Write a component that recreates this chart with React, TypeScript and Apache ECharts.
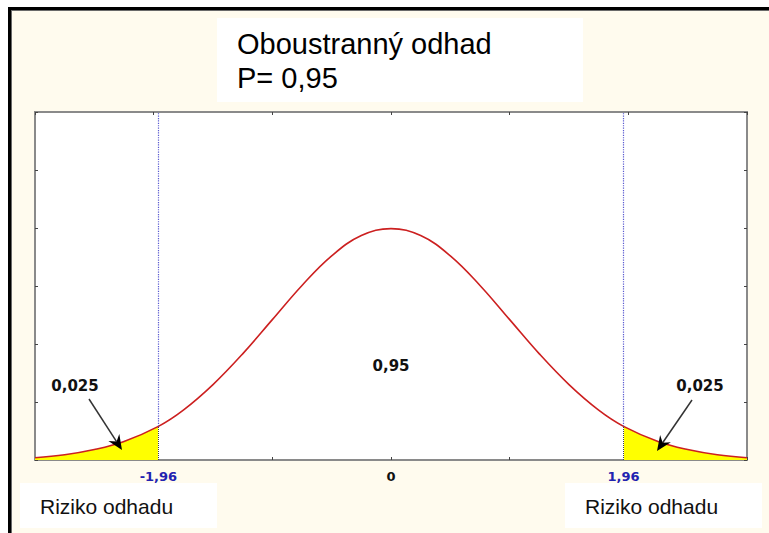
import React, { useEffect, useRef } from "react";
import * as echarts from "echarts";

// x positions (z) and density values
const zValues = [-3, -2.75, -2.5, -2.25, -1.96, -1.75, -1.5, -1.25, -1, -0.75, -0.5, -0.25, 0, 0.25, 0.5, 0.75, 1, 1.25, 1.5, 1.75, 1.96, 2.25, 2.5, 2.75, 3];
const density = [0.004, 0.009, 0.018, 0.032, 0.058, 0.086, 0.13, 0.183, 0.242, 0.301, 0.352, 0.387, 0.399, 0.387, 0.352, 0.301, 0.242, 0.183, 0.13, 0.086, 0.058, 0.032, 0.018, 0.009, 0.004];
const criticalValues = [-1.96, 1.96];
const criticalDensity = 0.058;
const xTickLabels = [-1.96, 0, 1.96];
const titleLines = ["Oboustranný odhad", "P= 0,95"];
const tailLabel = "0,025";
const centerLabel = "0,95";
const riskLabel = "Riziko odhadu";

function arrow(x1: number, y1: number, x2: number, y2: number) {
  const dx = x2 - x1, dy = y2 - y1;
  const len = Math.hypot(dx, dy);
  const ux = dx / len, uy = dy / len;
  const px = -uy, py = ux;
  const headLen = 15, headW = 6.5, notch = 10;
  const bx = x2 - ux * headLen, by = y2 - uy * headLen;
  const nx = x2 - ux * notch, ny = y2 - uy * notch;
  return [
    { type: "line", shape: { x1, y1, x2: nx, y2: ny }, style: { stroke: "#333", lineWidth: 1.5 }, z: 10 },
    {
      type: "polygon",
      shape: { points: [[x2, y2], [bx + px * headW, by + py * headW], [nx, ny], [bx - px * headW, by - py * headW]] },
      style: { fill: "#000" },
      z: 10,
    },
  ];
}

export default function App() {
  const ref = useRef<HTMLDivElement>(null);
  useEffect(() => {
    if (!ref.current) return;
    const chart = echarts.init(ref.current, undefined, { renderer: "svg" });
    const data = zValues.map((z, i) => [z, density[i]]);
    const axisCommon = {
      type: "value",
      axisLine: { show: true, onZero: false, lineStyle: { color: "#8a8a8a", width: 2 } },
      axisTick: { show: true, inside: true, length: 3, lineStyle: { color: "#444", width: 1 } },
      splitLine: { show: false },
    };
    const fmt = (v: number) => (v === 0 ? "{k|0}" : "{b|" + String(v).replace(".", ",") + "}");
    const option: any = {
      animation: false,
      backgroundColor: "#ffffff",
      grid: { left: 35, right: 22, top: 112, bottom: 73, show: true, backgroundColor: "#ffffff", borderColor: "#8a8a8a", borderWidth: 2 },
      xAxis: [
        {
          ...axisCommon,
          position: "bottom",
          min: -3,
          max: 3,
          interval: 1,
          axisLabel: {
            show: true,
            customValues: xTickLabels,
            formatter: fmt,
            margin: 10,
            rich: {
              k: { fontFamily: "DejaVu Sans", fontWeight: "bold", fontSize: 13, color: "#111" },
              b: { fontFamily: "DejaVu Sans", fontWeight: "bold", fontSize: 13, color: "#2222b0" },
            },
          },
        },
        { ...axisCommon, position: "top", min: -3, max: 3, interval: 1, axisLabel: { show: false } },
      ],
      yAxis: [
        { ...axisCommon, position: "left", min: 0, max: 0.6, interval: 0.1, axisLabel: { show: false } },
        { ...axisCommon, position: "right", min: 0, max: 0.6, interval: 0.1, axisLabel: { show: false } },
      ],
      visualMap: {
        show: false,
        type: "piecewise",
        seriesIndex: 0,
        dimension: 0,
        pieces: [
          { lt: criticalValues[0], color: "#ffff00" },
          { gte: criticalValues[0], lte: criticalValues[1], color: "rgba(255,255,255,0)" },
          { gt: criticalValues[1], color: "#ffff00" },
        ],
      },
      series: [
        {
          type: "line",
          data,
          smooth: 0.4,
          symbol: "none",
          lineStyle: { width: 0 },
          areaStyle: { opacity: 1 },
          z: 2,
          silent: true,
        },
        {
          type: "line",
          data,
          smooth: 0.4,
          symbol: "none",
          lineStyle: { color: "#cc2020", width: 1.6 },
          z: 4,
          silent: true,
          markLine: {
            silent: true,
            symbol: "none",
            label: { show: false },
            animation: false,
            data: [
              ...criticalValues.map((c) => [
                { coord: [c, criticalDensity], lineStyle: { color: "#5a5ad0", type: "dotted", width: 1.2 } },
                { coord: [c, 0.6] },
              ]),
              ...criticalValues.map((c) => [
                { coord: [c, 0], lineStyle: { color: "#444", type: "dotted", width: 1 } },
                { coord: [c, criticalDensity] },
              ]),
            ],
          },
        },
      ],
      graphic: [
        { type: "rect", shape: { x: 12, y: 11, width: 757, height: 522 }, style: { fill: "#fffbee" }, z: -10 },
        { type: "rect", shape: { x: 8, y: 7, width: 761, height: 3 }, style: { fill: "#000" }, z: 20 },
        { type: "rect", shape: { x: 8, y: 7, width: 3, height: 526 }, style: { fill: "#000" }, z: 20 },
        { type: "rect", shape: { x: 11, y: 10, width: 758, height: 1 }, style: { fill: "#6a6a6a" }, z: 20 },
        { type: "rect", shape: { x: 11, y: 10, width: 1, height: 523 }, style: { fill: "#6a6a6a" }, z: 20 },
        { type: "rect", shape: { x: 217, y: 18, width: 366, height: 84 }, style: { fill: "#ffffff" }, z: 5 },
        {
          type: "text",
          x: 237,
          y: 44,
          style: { text: titleLines[0], fontFamily: "Liberation Sans", fontSize: 29, fill: "#000", textVerticalAlign: "middle" },
          z: 6,
        },
        {
          type: "text",
          x: 237,
          y: 78,
          style: { text: titleLines[1], fontFamily: "Liberation Sans", fontSize: 29, fill: "#000", textVerticalAlign: "middle" },
          z: 6,
        },
        { type: "rect", shape: { x: 20, y: 483, width: 197, height: 45 }, style: { fill: "#ffffff" }, z: 5 },
        { type: "rect", shape: { x: 565, y: 483, width: 197, height: 45 }, style: { fill: "#ffffff" }, z: 5 },
        {
          type: "text",
          x: 40,
          y: 506,
          style: { text: riskLabel, fontFamily: "Liberation Sans", fontSize: 21, fill: "#111", textVerticalAlign: "middle" },
          z: 6,
        },
        {
          type: "text",
          x: 585,
          y: 506,
          style: { text: riskLabel, fontFamily: "Liberation Sans", fontSize: 21, fill: "#111", textVerticalAlign: "middle" },
          z: 6,
        },
        {
          type: "text",
          x: 75,
          y: 386,
          style: { text: tailLabel, fontFamily: "DejaVu Sans", fontWeight: "bold", fontSize: 15, fill: "#111", textAlign: "center", textVerticalAlign: "middle" },
          z: 6,
        },
        {
          type: "text",
          x: 700,
          y: 386,
          style: { text: tailLabel, fontFamily: "DejaVu Sans", fontWeight: "bold", fontSize: 15, fill: "#111", textAlign: "center", textVerticalAlign: "middle" },
          z: 6,
        },
        {
          type: "text",
          x: 391,
          y: 366,
          style: { text: centerLabel, fontFamily: "DejaVu Sans", fontWeight: "bold", fontSize: 15, fill: "#111", textAlign: "center", textVerticalAlign: "middle" },
          z: 6,
        },
        ...arrow(89, 399, 122, 450),
        ...arrow(692, 400, 657, 451),
      ],
    };
    chart.setOption(option);
    return () => chart.dispose();
  }, []);
  return <div ref={ref} style={{ position: "fixed", left: 0, top: 0, width: 769, height: 533 }} />;
}
